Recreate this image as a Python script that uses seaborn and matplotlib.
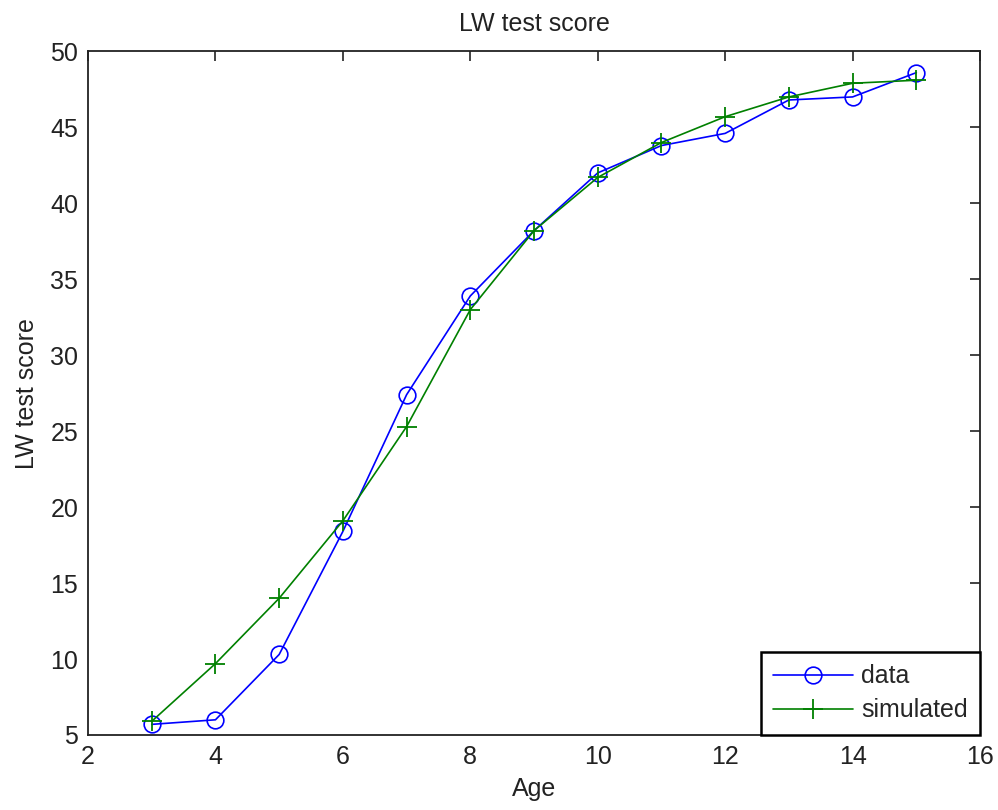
import matplotlib
matplotlib.use("Agg")
import matplotlib.pyplot as plt
import seaborn as sns
import pandas as pd

# Test scores by age: observed data and model simulation
ages = [3, 4, 5, 6, 7, 8, 9, 10, 11, 12, 13, 14, 15]
data_scores = [5.7, 6.0, 10.3, 18.4, 27.4, 33.9, 38.2, 42.0, 43.8, 44.6, 46.8, 47.0, 48.6]
simulated_scores = [5.9, 9.7, 14.0, 19.1, 25.3, 33.0, 38.2, 41.7, 44.0, 45.7, 47.0, 47.9, 48.1]

x_ticks = [2, 4, 6, 8, 10, 12, 14, 16]
y_ticks = [5, 10, 15, 20, 25, 30, 35, 40, 45, 50]

sns.set_style("white")
plt.rcParams["font.family"] = ["Liberation Sans", "DejaVu Sans"]
FS = 18
plt.rcParams["font.size"] = FS

df = pd.DataFrame({"Age": ages, "data": data_scores, "simulated": simulated_scores})

fig = plt.figure(figsize=(9.98, 8.10), dpi=100)
ax = fig.add_axes([0.0882, 0.0926, 0.8938, 0.8440])

sns.lineplot(data=df, x="Age", y="data", ax=ax, color="#0000ff", lw=1.2,
             marker="o", markersize=12, markerfacecolor="none",
             markeredgecolor="#0000ff", markeredgewidth=1.2, label="data")
sns.lineplot(data=df, x="Age", y="simulated", ax=ax, color="#008000", lw=1.2,
             marker="+", markersize=15, markeredgecolor="#008000",
             markeredgewidth=1.3, label="simulated")

ax.set_xlim(2, 16)
ax.set_ylim(5, 50)
ax.set_xticks(x_ticks)
ax.set_yticks(y_ticks)
ax.tick_params(direction="in", length=7, width=1.2, top=True, right=True,
               labelsize=FS, pad=7, colors="#222222")
for s in ax.spines.values():
    s.set_visible(True)
    s.set_color("#222222")
    s.set_linewidth(1.3)

ax.set_title("LW test score", fontsize=FS, pad=15, color="#222222")
ax.set_xlabel("Age", fontsize=FS, labelpad=6, color="#222222")
ax.set_ylabel("LW test score", fontsize=FS, labelpad=8, color="#222222")

leg = ax.legend(loc="lower right", borderaxespad=0, fancybox=False,
                edgecolor="black", framealpha=1, fontsize=FS,
                handlelength=3.2, handletextpad=0.3, borderpad=0.5,
                labelspacing=0.4)
leg.get_frame().set_linewidth(1.8)

fig.savefig("out.png", dpi=100, facecolor="white")
